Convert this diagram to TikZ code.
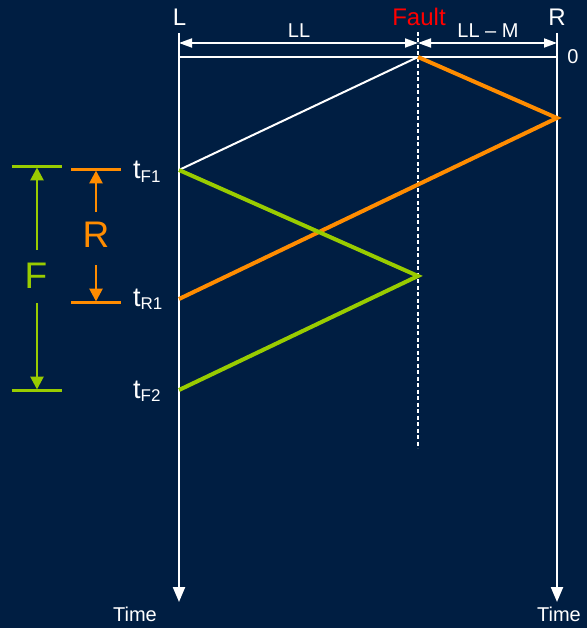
\documentclass[tikz,border=0pt]{standalone}
\usepackage{fontspec}
\setmainfont{Liberation Sans}
\usetikzlibrary{arrows.meta}
\definecolor{bg}{RGB}{0,30,66}
\definecolor{org}{RGB}{255,140,0}
\definecolor{grn}{RGB}{153,204,0}
\definecolor{flt}{RGB}{255,0,0}
\tikzset{
  wl/.style={white,line width=2.2pt},
  ol/.style={org,line width=4pt},
  gl/.style={grn,line width=4pt},
  tip/.style={-{Triangle[length=15pt,width=12pt]}},
  ctip/.style={-{Triangle[length=13pt,width=13pt]}},
  dimtip/.style={{Triangle[length=13pt,width=9pt]}-{Triangle[length=13pt,width=9pt]}},
  lbl/.style={text=white,inner sep=0pt,font=\fontsize{24}{28}\selectfont},
  sml/.style={text=white,inner sep=0pt,font=\fontsize{20}{24}\selectfont},
  tlb/.style={text=white,inner sep=0pt,anchor=base west,font=\fontsize{27}{30}\selectfont},
  big/.style={inner sep=0pt,font=\fontsize{37}{40}\selectfont},
}
\newcommand{\sbx}[1]{\raisebox{-3pt}{\fontsize{17}{20}\selectfont #1}}
\begin{document}
\begin{tikzpicture}[x=1pt,y=-1pt]
\fill[bg] (0,0) rectangle (587,628);
\useasboundingbox (0,0) rectangle (587,628);
% coordinates
\coordinate (Ltop) at (179,33);
\coordinate (Lbot) at (179,602);
\coordinate (Rtop) at (557,33);
\coordinate (Rbot) at (557,602);
\coordinate (L0) at (179,57);
\coordinate (F0) at (418,57);
\coordinate (R0) at (557,57);
\coordinate (Ftop) at (418,32);
\coordinate (Fbot) at (418,448);
\coordinate (LF1) at (179,170);
\coordinate (RR) at (557,118);
\coordinate (LR1) at (179,299);
\coordinate (FG) at (418,276);
\coordinate (LF2) at (179,390);
\coordinate (dL) at (179,43);
\coordinate (dF) at (418,43);
\coordinate (dR) at (557,43);
% labels
\node[lbl] (nL) at (179.5,17) {L};
\node[lbl] (nR) at (557,17) {R};
\node[inner sep=0pt,text=flt,font=\fontsize{24}{28}\selectfont] (nF) at (419,17) {Fault};
\node[sml] (nLL) at (299,31) {LL};
\node[sml] (nLLM) at (488,31) {LL -- M};
\node[sml] (n0) at (573,57) {0};
\node[sml] (tl) at (135,614) {Time};
\node[sml] (tr) at (559,614) {Time};
\node[tlb] (tf1) at (133,179) {t\sbx{F1}};
\node[tlb] (tr1) at (133,306) {t\sbx{R1}};
\node[tlb] (tf2) at (133,398) {t\sbx{F2}};
% time lines
\draw[wl,tip] (Ltop) -- (Lbot);
\draw[wl,tip] (Rtop) -- (Rbot);
\draw[wl] (L0) -- (R0);
\draw[white,line width=1.8pt,dash pattern=on 4pt off 2.5pt] (Ftop) -- (Fbot);
\draw[white,line width=1.8pt,dimtip] (dL) -- (dF);
\draw[white,line width=1.8pt,dimtip] (dF) -- (dR);
% travelling waves
\draw[white,line width=2pt] (LF1) -- (F0);
\draw[ol] (F0) -- (RR) -- (LR1);
\draw[gl] (LF1) -- (FG) -- (LF2);
% R dimension
\coordinate (oa1) at (71,169.5); \coordinate (oa2) at (121,169.5);
\coordinate (ob1) at (71,302.5); \coordinate (ob2) at (121,302.5);
\draw[org,line width=3pt] (oa1) -- (oa2);
\draw[org,line width=3pt] (ob1) -- (ob2);
\node[big,text=org] (nRR) at (96,235) {R};
\coordinate (oa) at (96,170.5); \coordinate (ob) at (96,301.5);
\coordinate (os1) at (96,212); \coordinate (os2) at (96,265);
\draw[org,line width=2.8pt,ctip] (os1) -- (oa);
\draw[org,line width=2.8pt,ctip] (os2) -- (ob);
% F dimension
\coordinate (ga1) at (11.5,166.5); \coordinate (ga2) at (62,166.5);
\coordinate (gb1) at (11.5,390.5); \coordinate (gb2) at (62,390.5);
\draw[grn,line width=3pt] (ga1) -- (ga2);
\draw[grn,line width=3pt] (gb1) -- (gb2);
\node[big,text=grn] (nFF) at (36,276) {F};
\coordinate (ga) at (37,167.5); \coordinate (gb) at (37,389.5);
\coordinate (gs1) at (37,250); \coordinate (gs2) at (37,303);
\draw[grn,line width=2.8pt,ctip] (gs1) -- (ga);
\draw[grn,line width=2.8pt,ctip] (gs2) -- (gb);
\end{tikzpicture}
\end{document}
